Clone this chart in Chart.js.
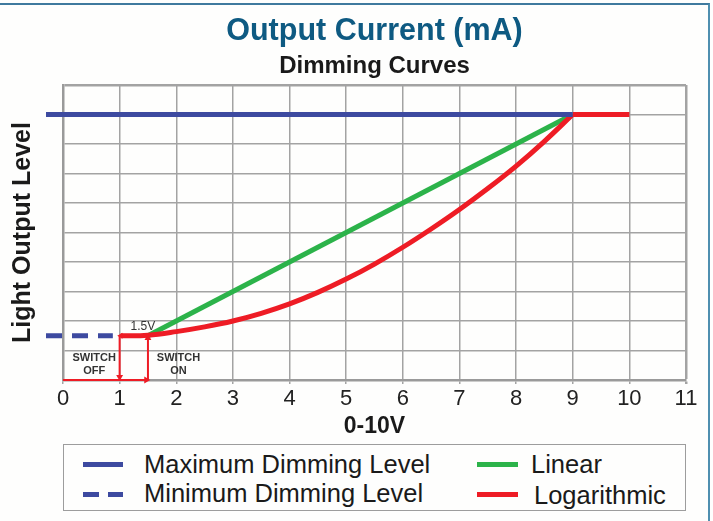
<!DOCTYPE html>
<html>
<head>
<meta charset="utf-8">
<script src="https://cdn.jsdelivr.net/npm/chart.js@4.4.1/dist/chart.umd.min.js"></script>
<style>
  html, body { margin: 0; padding: 0; background: #fefefd; }
  #page { position: relative; width: 713px; height: 521px; overflow: hidden; background: #fefefd; font-family: "Liberation Sans", Arial, sans-serif; }
  #frame { position: absolute; left: -2px; top: 3px; width: 712px; height: 530px; border-top: 2px solid #3f7a9e; border-right: 2px solid #4f8fb0; box-sizing: border-box; }
  #wrap { position: absolute; left: 0; top: 0; width: 713px; height: 443px; }
  #legend { position: absolute; left: 63px; top: 444px; width: 623px; height: 67px; border: 1.5px solid #9d9d9d; box-sizing: border-box; }
  .item { position: absolute; font-size: 25.5px; color: #1a1a1a; white-space: nowrap; line-height: 26px; }
  .sw { position: absolute; height: 5px; }
</style>
</head>
<body>
<div id="page">
  <div id="frame"></div>
  <div id="wrap"><canvas id="c"></canvas></div>
  <div id="legend"></div>
</div>
<script>
// ---- data ----
const xTicks = [0,1,2,3,4,5,6,7,8,9,10,11];
const maxX = [-0.3, 9];
const maxY = [9, 9];
const minX = [-0.3, 0.88];
const minY = [1.5, 1.5];
const linX = [1.5, 9];
const linY = [1.5, 9];
const logX = [1.02, 1.5, 2, 2.5, 3, 3.5, 4, 4.5, 5, 5.5, 6, 6.5, 7, 7.5, 8, 8.5, 9];
const logY = [1.5, 1.52, 1.64, 1.8, 2.0, 2.26, 2.58, 2.97, 3.42, 3.93, 4.5, 5.12, 5.78, 6.49, 7.25, 8.09, 9.0];
const logFlatX = [9, 10];
const logFlatY = [9, 9];
const swBaseX = [0, 1.47];
const swBaseY = [0, 0];
const swOffX = [1, 1];
const swOffY = [1.5, 0.1];
const swOnX = [1.5, 1.5];
const swOnY = [0, 1.42];
const noteTexts = ['1.5V', 'SWITCH', 'OFF', 'SWITCH', 'ON'];
const noteX = [1.41, 0.55, 0.55, 2.04, 2.04];
const noteY = [1.81, 0.75, 0.31, 0.75, 0.31];
const legendLabels = ['Maximum Dimming Level', 'Minimum Dimming Level', 'Linear', 'Logarithmic'];

const BLUE = '#3d4aa0', GREEN = '#2cb34a', RED = '#ee1c25';
const pts = (xs, ys) => xs.map((x, i) => ({x, y: ys[i]}));

const textPlugin = {
  id: 'texts',
  afterDatasetsDraw(chart) {
    const {ctx, chartArea, scales} = chart;
    const cx = (chartArea.left + chartArea.right) / 2;
    ctx.save();
    ctx.textAlign = 'center';
    ctx.textBaseline = 'alphabetic';
    ctx.fillStyle = '#0e5a82';
    ctx.font = 'bold 30.5px "Liberation Sans", Arial, sans-serif';
    ctx.fillText('Output Current (mA)', cx, 39.5);
    ctx.fillStyle = '#1a1a1a';
    ctx.font = 'bold 24px "Liberation Sans", Arial, sans-serif';
    ctx.fillText('Dimming Curves', cx, 73);
    ctx.textBaseline = 'middle';
    noteTexts.forEach((t, i) => {
      ctx.fillStyle = '#333';
      ctx.font = (i === 0 ? '12px ' : 'bold 11px ') + '"Liberation Sans", Arial, sans-serif';
      ctx.fillText(t, scales.x.getPixelForValue(noteX[i]), scales.y.getPixelForValue(noteY[i]));
    });
    ctx.restore();
  }
};

const lineDs = (data, color, width, extra) => Object.assign({
  data, borderColor: color, backgroundColor: color, borderWidth: width,
  pointRadius: 0, tension: 0, clip: false, borderCapStyle: 'butt', fill: false
}, extra || {});

const arrow = (rot) => ({
  pointStyle: 'triangle', pointRadius: [0, 4], pointRotation: [0, rot],
  pointBackgroundColor: RED, pointBorderWidth: 0
});

new Chart(document.getElementById('c'), {
  type: 'line',
  data: {
    datasets: [
      lineDs(pts(maxX, maxY), BLUE, 5),
      lineDs(pts(minX, minY), BLUE, 5, {borderDash: [16, 10]}),
      lineDs(pts(logFlatX, logFlatY), RED, 5),
      lineDs(pts(logX, logY), RED, 5, {tension: 0.4, capBezierPoints: false,
        pointStyle: 'triangle', pointRadius: logX.map((v, i) => i === 0 ? 3.5 : 0),
        pointRotation: 270, pointBackgroundColor: RED, pointBorderWidth: 0}),
      lineDs(pts(linX, linY), GREEN, 5),
      lineDs(pts(swBaseX, swBaseY), RED, 2, arrow(90)),
      lineDs(pts(swOffX, swOffY), RED, 2, arrow(180)),
      lineDs(pts(swOnX, swOnY), RED, 2, arrow(0))
    ]
  },
  options: {
    responsive: true,
    maintainAspectRatio: false,
    animation: false,
    events: [],
    layout: { padding: { top: 85, right: 27, left: 0, bottom: 0 } },
    plugins: { legend: { display: false }, tooltip: { enabled: false } },
    scales: {
      x: {
        type: 'linear', min: 0, max: 11,
        afterBuildTicks: (s) => { s.ticks = xTicks.map(v => ({value: v})); },
        afterFit: (s) => { s.height = 63; },
        ticks: { color: '#222', font: { size: 22, family: '"Liberation Sans", Arial, sans-serif' }, padding: 2, maxRotation: 0, autoSkip: false },
        grid: { color: '#a3a3a3', lineWidth: (c) => (c.tick && c.tick.value === 11 ? 2.5 : 1.5), tickLength: 4, drawTicks: true },
        border: { color: '#9a9a9a', width: 2.5 },
        title: { display: true, text: '0-10V', color: '#1a1a1a', font: { size: 23, weight: 'bold', family: '"Liberation Sans", Arial, sans-serif' }, padding: { top: 0, bottom: 3 } }
      },
      y: {
        type: 'linear', min: 0, max: 10,
        ticks: { display: false, stepSize: 1 },
        afterFit: (s) => { s.width = 63; },
        grid: { color: '#a3a3a3', lineWidth: (c) => (c.tick && c.tick.value === 10 ? 2.5 : 1.5), drawTicks: false },
        border: { color: '#9a9a9a', width: 2.5 },
        title: { display: true, text: 'Light Output Level', color: '#1a1a1a', font: { size: 25, weight: 'bold', family: '"Liberation Sans", Arial, sans-serif' }, padding: { top: 8, bottom: 0 } }
      }
    }
  },
  plugins: [textPlugin]
});

// ---- HTML legend ----
const legend = document.getElementById('legend');
const legendSpec = [
  {color: BLUE, dash: false, sx: 19, sy: 17, tx: 80, ty: 6},
  {color: BLUE, dash: true, sx: 19, sy: 47, tx: 80, ty: 35},
  {color: GREEN, dash: false, sx: 413, sy: 17, tx: 467, ty: 6},
  {color: RED, dash: false, sx: 413, sy: 47, tx: 470, ty: 37}
];
legendLabels.forEach((label, i) => {
  const s = legendSpec[i];
  const segs = s.dash ? [[0, 16], [25, 15]] : [[0, s.color === BLUE ? 40 : 41]];
  segs.forEach(([o, w]) => {
    const d = document.createElement('div');
    d.className = 'sw';
    d.style.left = (s.sx + o) + 'px';
    d.style.top = s.sy + 'px';
    d.style.width = w + 'px';
    d.style.background = s.color;
    legend.appendChild(d);
  });
  const t = document.createElement('div');
  t.className = 'item';
  t.style.left = s.tx + 'px';
  t.style.top = s.ty + 'px';
  t.textContent = label;
  legend.appendChild(t);
});
</script>
</body>
</html>
